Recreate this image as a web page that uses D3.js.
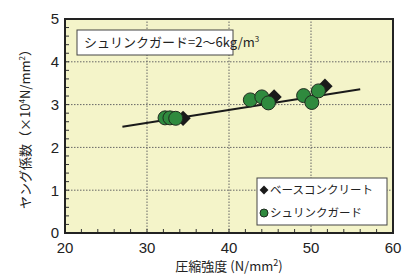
<!DOCTYPE html>
<html>
<head>
<meta charset="utf-8">
<script src="https://cdn.jsdelivr.net/npm/d3@7"></script>
<style>
  body { margin: 0; background: #fff; }
  svg { display: block; font-family: "Liberation Sans", Arial, sans-serif; }
  .jp { font-family: "Noto Sans CJK JP", sans-serif; }
</style>
</head>
<body>
<div id="chart"></div>
<script>
// base concrete (diamonds)
const baseX = [34.4, 45.5, 51.7];
const baseY = [2.68, 3.18, 3.43];
// shrinkage guard (circles)
const sgX = [32.2, 32.8, 33.5, 42.6, 44.0, 44.8, 49.1, 50.1, 50.9];
const sgY = [2.69, 2.69, 2.68, 3.11, 3.18, 3.04, 3.21, 3.05, 3.32];
// trend line end points
const lineX = [27, 56];
const lineY = [2.48, 3.36];
const xTicks = [20, 30, 40, 50, 60];
const yTicks = [0, 1, 2, 3, 4, 5];

const W = 418, H = 277;
const m = { left: 65, right: 25, top: 19, bottom: 44 };

const svg = d3.select('#chart').append('svg')
    .attr('width', W)
    .attr('height', H);

const x = d3.scaleLinear().domain([20, 60]).range([m.left, W - m.right]);
const y = d3.scaleLinear().domain([0, 5]).range([H - m.bottom, m.top]);

// plot background
svg.append('rect')
    .attr('x', x(20)).attr('y', y(5))
    .attr('width', x(60) - x(20)).attr('height', y(0) - y(5))
    .attr('fill', '#f4f4c9');

// dotted grid
svg.append('g').selectAll('line.gy')
    .data(yTicks.slice(1, -1))
    .enter().append('line')
    .attr('x1', x(20)).attr('x2', x(60))
    .attr('y1', d => y(d)).attr('y2', d => y(d))
    .attr('stroke', '#666').attr('stroke-width', 1).attr('stroke-dasharray', '1.5,1.5');
svg.append('g').selectAll('line.gx')
    .data(xTicks.slice(1, -1))
    .enter().append('line')
    .attr('y1', y(0)).attr('y2', y(5))
    .attr('x1', d => x(d)).attr('x2', d => x(d))
    .attr('stroke', '#666').attr('stroke-width', 1).attr('stroke-dasharray', '1.5,1.5');

// minor ticks, pointing inward
svg.append('g').selectAll('line')
    .data(d3.range(0, 5.001, 0.2))
    .enter().append('line')
    .attr('x1', x(20)).attr('x2', x(20) + 4)
    .attr('y1', d => y(d)).attr('y2', d => y(d))
    .attr('stroke', '#333');
svg.append('g').selectAll('line')
    .data(d3.range(20, 60.001, 2))
    .enter().append('line')
    .attr('y1', y(0)).attr('y2', y(0) - 4)
    .attr('x1', d => x(d)).attr('x2', d => x(d))
    .attr('stroke', '#333');

// trend line
svg.append('line')
    .attr('x1', x(lineX[0])).attr('y1', y(lineY[0]))
    .attr('x2', x(lineX[1])).attr('y2', y(lineY[1]))
    .attr('stroke', '#1a1a1a').attr('stroke-width', 2);

// diamonds
const diamond = d3.symbol().type(d3.symbolDiamond2).size(150);
svg.append('g').selectAll('path')
    .data(baseX.map((v, i) => [v, baseY[i]]))
    .enter().append('path')
    .attr('d', diamond)
    .attr('transform', d => `translate(${x(d[0])},${y(d[1])})`)
    .attr('fill', '#1a1a1a');

// circles
svg.append('g').selectAll('circle')
    .data(sgX.map((v, i) => [v, sgY[i]]))
    .enter().append('circle')
    .attr('cx', d => x(d[0])).attr('cy', d => y(d[1]))
    .attr('r', 7)
    .attr('fill', '#2f8a3e')
    .attr('stroke', '#1f2a1f').attr('stroke-width', 1);

// frame
svg.append('rect')
    .attr('x', x(20)).attr('y', y(5))
    .attr('width', x(60) - x(20)).attr('height', y(0) - y(5))
    .attr('fill', 'none').attr('stroke', '#222').attr('stroke-width', 2);

// tick labels
svg.append('g').selectAll('text')
    .data(yTicks)
    .enter().append('text')
    .attr('x', x(20) - 6).attr('y', d => y(d))
    .attr('dy', '0.36em')
    .attr('text-anchor', 'end')
    .attr('font-size', 15).attr('fill', '#222')
    .text(d => d);
svg.append('g').selectAll('text')
    .data(xTicks)
    .enter().append('text')
    .attr('x', d => x(d)).attr('y', y(0) + 20)
    .attr('text-anchor', 'middle')
    .attr('font-size', 15).attr('fill', '#222')
    .text(d => d);

// axis titles
svg.append('text')
    .attr('class', 'jp')
    .attr('x', (x(20) + x(60)) / 2).attr('y', 271)
    .attr('text-anchor', 'middle')
    .attr('font-size', 13).attr('fill', '#222')
    .html('圧縮強度 (N/mm<tspan dy="-5" font-size="9">2</tspan><tspan dy="5">)</tspan>');
svg.append('text')
    .attr('class', 'jp')
    .attr('transform', `translate(30,${(y(0) + y(5)) / 2}) rotate(-90)`)
    .attr('text-anchor', 'middle')
    .attr('font-size', 13).attr('fill', '#222')
    .html('ヤング係数（×10<tspan dy="-5" font-size="8">4</tspan><tspan dy="5">N/mm</tspan><tspan dy="-5" font-size="8">2</tspan><tspan dy="5">）</tspan>');

// annotation box
svg.append('rect')
    .attr('x', 77).attr('y', 30).attr('width', 156).attr('height', 25)
    .attr('fill', '#fff').attr('stroke', '#444').attr('stroke-width', 1);
svg.append('text')
    .attr('class', 'jp')
    .attr('x', 84).attr('y', 47)
    .attr('font-size', 13).attr('fill', '#222')
    .html('シュリンクガード=2～6kg/m<tspan dy="-5" font-size="8">3</tspan>');

// legend
const lg = svg.append('g');
lg.append('rect')
    .attr('x', 257).attr('y', 178).attr('width', 130).attr('height', 47)
    .attr('fill', '#fff').attr('stroke', '#444').attr('stroke-width', 1);
lg.append('path')
    .attr('d', d3.symbol().type(d3.symbolDiamond2).size(50))
    .attr('transform', 'translate(264,190)')
    .attr('fill', '#1a1a1a');
lg.append('circle')
    .attr('cx', 264).attr('cy', 213).attr('r', 4)
    .attr('fill', '#2f8a3e').attr('stroke', '#1f2a1f');
lg.append('text').attr('class', 'jp')
    .attr('x', 270).attr('y', 194)
    .attr('font-size', 11.5).attr('fill', '#222')
    .text('ベースコンクリート');
lg.append('text').attr('class', 'jp')
    .attr('x', 270).attr('y', 217)
    .attr('font-size', 11.5).attr('fill', '#222')
    .text('シュリンクガード');
</script>
</body>
</html>
